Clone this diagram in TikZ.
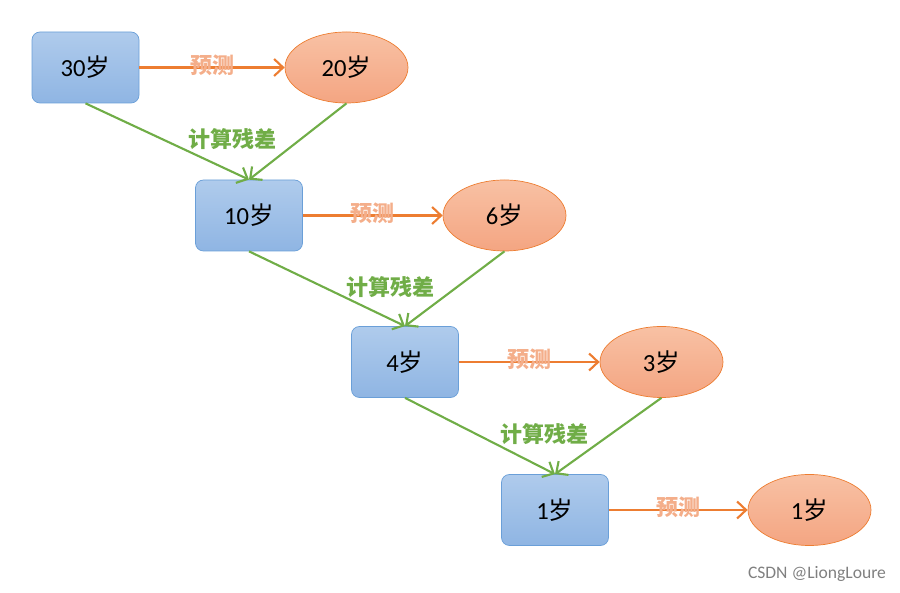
\documentclass[tikz,border=0pt]{standalone}
\usepackage{fontspec}
\setmainfont{Carlito}
\newfontfamily\cjk{Noto Sans CJK SC}
\usetikzlibrary{calc,arrows.meta,positioning,shapes.geometric}
\definecolor{boxtop}{HTML}{AFCBEC}
\definecolor{boxbot}{HTML}{8FB5E3}
\definecolor{boxline}{HTML}{6A9FD8}
\definecolor{esttop}{HTML}{F8C1A4}
\definecolor{estbot}{HTML}{F4A582}
\definecolor{estline}{HTML}{ED7D31}
\definecolor{resgreen}{HTML}{70AD47}
\definecolor{predpale}{HTML}{F4AE8A}
\newcommand{\yr}{{\cjk 岁}}
\tikzset{agebox/.style={rounded corners=0.16cm,top color=boxtop,bottom color=boxbot,draw=boxline,minimum width=2.14cm,minimum height=1.42cm,inner sep=0pt,font=\fontsize{14}{16}\selectfont},
estnode/.style={ellipse,top color=esttop,bottom color=estbot,draw=estline,minimum width=2.46cm,minimum height=1.42cm,inner sep=0pt,font=\fontsize{14}{16}\selectfont}}

\begin{document}
\begin{tikzpicture}

\tikzset{predarrow/.style={estline,line width=1.2pt,-{Straight Barb[length=1.8mm,width=3.4mm]}},
resarrow/.style={resgreen,line width=1.2pt,-{Straight Barb[length=1.8mm,width=3.4mm]}},
predlabel/.style={predpale,font=\cjk\bfseries\fontsize{12.5}{14}\selectfont,yshift=0.05cm},
reslabel/.style={resgreen,font=\cjk\bfseries\fontsize{12.5}{14}\selectfont,yshift=0.04cm},
watermark/.style={gray,font=\fontsize{10}{12}\selectfont}}

\useasboundingbox (0,0) rectangle (18,11.86);

% Boxes and estimates
\foreach \i/\x/\y/\ex/\a/\b in {1/1.71/10.51/6.93/30/20, 2/4.98/7.55/10.09/10/6, 3/8.10/4.62/13.23/4/3, 4/11.10/1.66/16.19/1/1}
{
\node[agebox] (box\i) at (\x,\y) {\a\yr};
\node[estnode] (est\i) at (\ex,\y) {\b\yr};
\draw[predarrow] (box\i) -- node[predlabel] (pred\i) {预测} (est\i);
}

% Residuals
\foreach \i/\j in {1/2,2/3,3/4}
{
\draw[resarrow] (box\i.south) -- (box\j.north);
\draw[resarrow] (est\i.south) -- (box\j.north);
\node[reslabel] (res\i) at ($($(box\i.south)!0.5!(est\i.south)$)!0.5!(box\j.north)$) {计算残差};
}

\node[watermark] (mark) at (16.34,0.38) {CSDN @LiongLoure};

\end{tikzpicture}
\end{document}
